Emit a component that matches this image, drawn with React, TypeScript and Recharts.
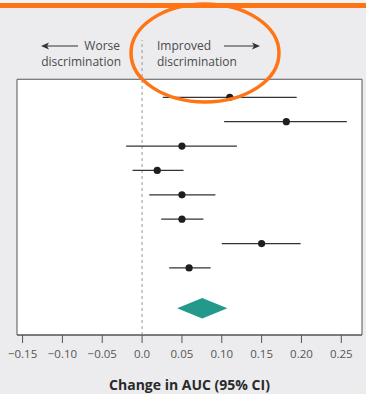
import React from "react";
import {
  ComposedChart,
  Scatter,
  ErrorBar,
  XAxis,
  YAxis,
  ReferenceArea,
  ReferenceLine,
} from "recharts";

// Study rows (top to bottom)
const rows = [1, 2, 3, 4, 5, 6, 7, 8];
const estimates = [0.11, 0.181, 0.05, 0.019, 0.05, 0.05, 0.15, 0.059];
const lowerCI = [0.026, 0.103, -0.02, -0.012, 0.009, 0.024, 0.1, 0.034];
const upperCI = [0.194, 0.257, 0.119, 0.052, 0.092, 0.077, 0.199, 0.086];

// Pooled estimate (diamond)
const pooledRow = 9.65;
const pooledEstimate = 0.0756;
const pooledLower = 0.044;
const pooledUpper = 0.107;

const xTicks = [-0.15, -0.1, -0.05, 0.0, 0.05, 0.1, 0.15, 0.2, 0.25];
const xDomain: [number, number] = [-0.157, 0.276];
const yDomain: [number, number] = [-1.35, 10.75];
const frameTop = 0.26;

const data = rows.map((r, i) => ({
  row: r,
  est: estimates[i],
  err: [estimates[i] - lowerCI[i], upperCI[i] - estimates[i]],
}));

const fmt = (v: number) =>
  v === 0 ? "0.0" : (v < 0 ? "\u2212" : "") + Math.abs(v).toFixed(2);

const FONT = "'Open Sans', Lato, sans-serif";

const Diamond = (props: any) => {
  const { x, y, width, height } = props;
  const cx = x + width / 2;
  const cy = y + height / 2;
  return (
    <polygon
      points={`${x},${cy} ${cx},${y} ${x + width},${cy} ${cx},${y + height}`}
      fill="#22998b"
      stroke="none"
    />
  );
};

const Dot = (props: any) => (
  <circle cx={props.cx} cy={props.cy} r={3.6} fill="#1e1e1e" />
);

export default function App() {
  return (
    <div
      style={{
        position: "absolute",
        left: 0,
        top: 0,
        width: 366,
        height: 394,
        background: "#ececee",
        overflow: "hidden",
        fontFamily: FONT,
      }}
    >
      <ComposedChart
        width={366}
        height={394}
        margin={{ top: 40, right: 4, left: 17, bottom: 0 }}
        data={data}
      >
        <XAxis
          type="number"
          dataKey="est"
          domain={xDomain}
          ticks={xTicks}
          tickFormatter={fmt}
          allowDataOverflow
          height={59}
          tickSize={8}
          tickMargin={7}
          stroke="#555"
          tickLine={{ stroke: "#555" }}
          axisLine={{ stroke: "#555" }}
          tick={{ fill: "#555", fontSize: 11.5, fontFamily: FONT }}
          label={{
            value: "Change in AUC (95% CI)",
            position: "insideBottom",
            offset: 4,
            fill: "#2a2a2a",
            fontSize: 14,
            fontWeight: 700,
            fontFamily: FONT,
          }}
        />
        <YAxis
          type="number"
          dataKey="row"
          domain={yDomain}
          reversed
          hide
          allowDataOverflow
        />
        <ReferenceArea
          x1={xDomain[0]}
          x2={xDomain[1]}
          y1={frameTop}
          y2={yDomain[1]}
          fill="#ffffff"
          fillOpacity={1}
          stroke="#555"
          strokeWidth={1}
          ifOverflow="visible"
        />
        <ReferenceLine
          x={0}
          stroke="#9a9a9a"
          strokeDasharray="3 3"
          ifOverflow="visible"
        />
        <ReferenceArea
          x1={pooledLower}
          x2={pooledUpper}
          y1={pooledRow - 0.42}
          y2={pooledRow + 0.42}
          shape={<Diamond />}
          ifOverflow="visible"
        />
        <Scatter
          data={data}
          dataKey="row"
          shape={<Dot />}
          isAnimationActive={false}
        >
          <ErrorBar
            dataKey="err"
            direction="x"
            width={0}
            stroke="#333"
            strokeWidth={1.2}
          />
        </Scatter>
      </ComposedChart>
      <svg
        width={366}
        height={394}
        style={{ position: "absolute", left: 0, top: 0, pointerEvents: "none" }}
      >
        <rect x={0} y={0} width={366} height={3} fill="#f3f3f3" />
        <rect x={0} y={3} width={366} height={5} fill="#ff7414" />
        <g fill="#4a4a4a" fontSize={12} fontFamily={FONT}>
          <text x={120} y={50} textAnchor="end">Worse</text>
          <text x={121} y={66} textAnchor="end">discrimination</text>
          <text x={157} y={50} textAnchor="start">Improved</text>
          <text x={157} y={66} textAnchor="start">discrimination</text>
        </g>
        <g stroke="#333" strokeWidth={1.2} fill="#333">
          <line x1={44} y1={46} x2={78} y2={46} />
          <polygon points="41,46 49,42.5 47,46 49,49.5" stroke="none" />
          <line x1={224} y1={46} x2={257} y2={46} />
          <polygon points="260,46 252,42.5 254,46 252,49.5" stroke="none" />
        </g>
        <ellipse
          cx={205}
          cy={53}
          rx={74}
          ry={49}
          fill="none"
          stroke="#ff7414"
          strokeWidth={3.5}
        />
      </svg>
    </div>
  );
}
